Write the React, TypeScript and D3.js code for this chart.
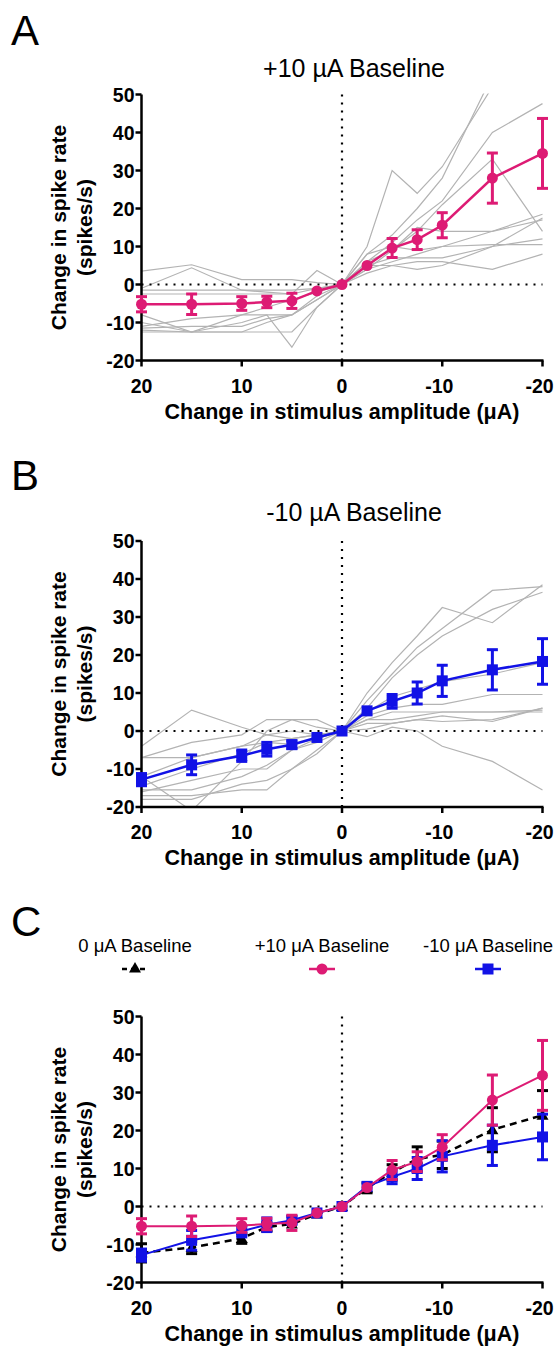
import React from "react";
import * as d3 from "d3";

// ---------- data ----------
const X = [20, 15, 10, 7.5, 5, 2.5, 0, -2.5, -5, -7.5, -10, -15, -20];
const xTicks = [20, 10, 0, -10, -20];
const xTickLabels = ["20", "10", "0", "-10", "-20"];
const yTicks = [-20, -10, 0, 10, 20, 30, 40, 50];

const plus10Mean = [-5.2, -5.2, -5.0, -4.6, -4.3, -1.7, 0, 5.0, 9.6, 11.8, 15.6, 28.0, 34.5];
const plus10Err = [2.0, 2.7, 1.8, 1.5, 2.0, 0.6, 0, 0.7, 2.5, 2.6, 3.3, 6.6, 9.2];

const minus10Mean = [-12.8, -8.9, -6.5, -4.8, -3.6, -1.7, 0, 5.3, 7.8, 10.0, 13.2, 16.1, 18.3];
const minus10Err = [1.6, 2.6, 1.5, 1.8, 1.0, 0.5, 0, 0.8, 1.8, 2.9, 4.1, 5.3, 6.0];

const zeroMean = [-12.2, -10.8, -8.4, -5.4, -4.6, -2.0, 0, 4.9, 9.0, 12.5, 13.6, 20.2, 24.0];
const zeroErr = [2.4, 1.6, 1.3, 1.1, 0.9, 0.6, 0, 1.3, 2.0, 3.2, 3.6, 5.8, 6.5];

const plus10Cells = [
  [3.5, 5.2, 1.3, 1.3, 1.3, 0.5, 0, 10, 30, 24, 31, 52, 60],
  [-1, 4.4, -1.5, -2, -2.5, 3.7, 0, 8, 13, 20, 28, 55, 70],
  [-2.5, -2.5, -2.5, -2.5, -2.5, -1, 0, 6, 11, 17, 22, 40, 47.6],
  [-8, -12.5, -8, -6, -4, -2, 0, 4, 9, 14, 21, 33, 14],
  [-10, -12.5, -12.5, -10, -8, -3, 0, 4, 6, 8, 10, 14, 18.5],
  [-11, -9, -8, -8, -8, -4, 0, 3, 5, 4, 5, 10, 17.5],
  [-12, -12.5, -10, -8, -16.5, -6, 0, 6, 9, 15, 14, 14, 17],
  [-12.5, -12.5, -12.5, -12.5, -12.5, -6, 0, 5, 7, 7, 7, 10, 12],
  [-1.5, -1.5, -1.5, -1.5, -1.5, -1, 0, 5, 5, 6, 6, 4, 8],
  [-11.5, -11, -11, -9, -8, -4, 0, 8, 10, 9, 10, 10.5, 10.5],
];

const minus10Cells = [
  [-4, 5.5, 1, -1, -2, -1, 0, 10, 18, 25, 32.5, 28.5, 38.5],
  [-7, -3, -1, 3, 3, 1, 0, 8, 15, 22, 27, 37, 38],
  [-12, -7, -4, -1, 0, -1, 0, 6, 14, 20, 25, 32, 36.5],
  [-14.5, -10, -6, -3, -2, -1, 0, 5, 9, 11, 13, 15, 18],
  [-15.5, -15.5, -12, -9, -5, -2, 0, 4, 6, 7, 7, 9.6, 9.6],
  [-16, -13, -10, -10, -5, -3, 0, 3, 5, 5, 5, 5, 5],
  [-17, -17, -15.5, -15.5, -10, -5, 0, 2, 2, 3, 2.5, 3, 6],
  [-18, -18, -14, -13, -10, -6, 0, 3, 3, 4, 5, 5, 5.5],
  [-7, -7, -4, -3, -3.5, -2, 0, 0.5, 2, 3, 4, 2.5, 6],
  [-12, -21, -8, 0, 3, 3, 0, -1.5, 1, 0, -4, -8, -15.5],
];

// ---------- style ----------
const MAGENTA = "#DD1B74";
const BLUE = "#1212E6";
const GRAY = "#B3B3B3";
const FONT = "'Liberation Sans', Arial, sans-serif";

const X0 = 141.5;
const X1 = 542.5;
const PLOT_H = 266;

type Series = {
  mean: number[];
  err: number[];
  color: string;
  marker: "circle" | "square" | "triangle";
  dash?: string;
  width: number;
};

function Marker({ kind, x, y, color }: { kind: string; x: number; y: number; color: string }) {
  if (kind === "circle") return <circle cx={x} cy={y} r={5.5} fill={color} />;
  if (kind === "square") return <rect x={x - 5.5} y={y - 5.5} width={11} height={11} fill={color} />;
  const s = 6;
  return <path d={`M${x},${y - s}L${x + s},${y + s * 0.75}L${x - s},${y + s * 0.75}Z`} fill={color} />;
}

function Panel({
  top,
  cells,
  series,
  id,
}: {
  top: number;
  cells: number[][];
  series: Series[];
  id: string;
}) {
  const x = d3.scaleLinear().domain([20, -20]).range([X0, X1]);
  const y = d3.scaleLinear().domain([-20, 50]).range([top + PLOT_H, top]);
  const line = d3
    .line<number>()
    .x((_, i) => x(X[i]))
    .y((d) => y(d));
  const bottom = top + PLOT_H;
  return (
    <g>
      <defs>
        <clipPath id={id}>
          <rect x={X0} y={top - 1} width={X1 - X0 + 1} height={PLOT_H + 1} />
        </clipPath>
      </defs>
      <g clipPath={`url(#${id})`}>
        {cells.map((c, i) => (
          <path key={i} d={line(c) || ""} fill="none" stroke={GRAY} strokeWidth={1.2} />
        ))}
      </g>
      {/* dotted zero lines */}
      <line x1={X0} x2={X1} y1={y(0)} y2={y(0)} stroke="#000" strokeWidth={2.2} strokeDasharray="2 6" />
      <line x1={x(0)} x2={x(0)} y1={y(50)} y2={bottom} stroke="#000" strokeWidth={2.2} strokeDasharray="2 6" />
      {/* axes */}
      <line x1={X0} x2={X0} y1={top} y2={bottom + 1} stroke="#000" strokeWidth={2.5} />
      <line x1={X0 - 1} x2={X1 + 1} y1={bottom} y2={bottom} stroke="#000" strokeWidth={2.5} />
      {yTicks.map((t) => (
        <g key={t}>
          <line x1={X0 - 6} x2={X0} y1={y(t)} y2={y(t)} stroke="#000" strokeWidth={2.5} />
          <text
            x={X0 - 7}
            y={y(t) + 7}
            textAnchor="end"
            fontFamily={FONT}
            fontWeight="bold"
            fontSize={19.5}
          >
            {t}
          </text>
        </g>
      ))}
      {xTicks.map((t, i) => (
        <g key={t}>
          <line x1={x(t)} x2={x(t)} y1={bottom} y2={bottom + 6} stroke="#000" strokeWidth={2.5} />
          <text
            x={x(t) + (t < 0 ? -3 : 0)}
            y={bottom + 32}
            textAnchor="middle"
            fontFamily={FONT}
            fontWeight="bold"
            fontSize={19.5}
          >
            {xTickLabels[i]}
          </text>
        </g>
      ))}
      <text
        x={(X0 + X1) / 2}
        y={bottom + 58}
        textAnchor="middle"
        fontFamily={FONT}
        fontWeight="bold"
        fontSize={21.5}
      >
        Change in stimulus amplitude (μA)
      </text>
      <g transform={`translate(66,${(top + bottom) / 2}) rotate(-90)`}>
        <text textAnchor="middle" fontFamily={FONT} fontWeight="bold" fontSize={21}>
          Change in spike rate
        </text>
        <text y={26} textAnchor="middle" fontFamily={FONT} fontWeight="bold" fontSize={21}>
          (spikes/s)
        </text>
      </g>
      {series.map((s, si) => (
        <g key={si}>
          <path
            d={line(s.mean) || ""}
            fill="none"
            stroke={s.color}
            strokeWidth={s.width}
            strokeDasharray={s.dash}
          />
          {s.mean.map((m, i) =>
            s.err[i] > 0.9 ? (
              <g key={i} stroke={s.color} strokeWidth={3}>
                <line x1={x(X[i])} x2={x(X[i])} y1={y(m - s.err[i])} y2={y(m + s.err[i])} />
                <line x1={x(X[i]) - 5.5} x2={x(X[i]) + 5.5} y1={y(m - s.err[i])} y2={y(m - s.err[i])} />
                <line x1={x(X[i]) - 5.5} x2={x(X[i]) + 5.5} y1={y(m + s.err[i])} y2={y(m + s.err[i])} />
              </g>
            ) : null
          )}
          {s.mean.map((m, i) => (
            <Marker key={"m" + i} kind={s.marker} x={x(X[i])} y={y(m)} color={s.color} />
          ))}
        </g>
      ))}
    </g>
  );
}

const plus10Series: Series = { mean: plus10Mean, err: plus10Err, color: MAGENTA, marker: "circle", width: 2.5 };
const minus10Series: Series = { mean: minus10Mean, err: minus10Err, color: BLUE, marker: "square", width: 2.5 };

export default function App() {
  const letter = (t: string, yy: number) => (
    <text x={11} y={yy} fontFamily={FONT} fontSize={42}>
      {t}
    </text>
  );
  const title = (t: string, yy: number) => (
    <text x={354} y={yy} textAnchor="middle" fontFamily={FONT} fontSize={25}>
      {t}
    </text>
  );
  return (
    <svg
      width={557}
      height={1349}
      style={{ position: "absolute", left: 0, top: 0, background: "#fff" }}
    >
      <rect width={557} height={1349} fill="#fff" />
      {letter("A", 45)}
      {title("+10 µA Baseline", 77)}
      <Panel top={94.5} cells={plus10Cells} series={[plus10Series]} id="clipA" />

      {letter("B", 490)}
      {title("-10 µA Baseline", 521)}
      <Panel top={541} cells={minus10Cells} series={[minus10Series]} id="clipB" />

      {letter("C", 936)}
      <g fontFamily={FONT} fontSize={18.5} textAnchor="middle">
        <text x={135} y={952}>0 μA Baseline</text>
        <text x={322} y={952}>+10 μA Baseline</text>
        <text x={488} y={952}>-10 μA Baseline</text>
      </g>
      <g>
        <line x1={122} x2={148} y1={969} y2={969} stroke="#000" strokeWidth={2.5} strokeDasharray="5 4" />
        <Marker kind="triangle" x={135} y={968} color="#000" />
        <line x1={309} x2={335} y1={969} y2={969} stroke={MAGENTA} strokeWidth={2.5} />
        <Marker kind="circle" x={322} y={969} color={MAGENTA} />
        <line x1={475} x2={501} y1={969} y2={969} stroke={BLUE} strokeWidth={2.5} />
        <Marker kind="square" x={488} y={969} color={BLUE} />
      </g>
      <Panel
        top={1016.5}
        cells={[]}
        series={[
          { mean: zeroMean, err: zeroErr, color: "#000", marker: "triangle", dash: "7 5", width: 2.5 },
          { ...minus10Series, width: 2 },
          { ...plus10Series, width: 2 },
        ]}
        id="clipC"
      />
    </svg>
  );
}
